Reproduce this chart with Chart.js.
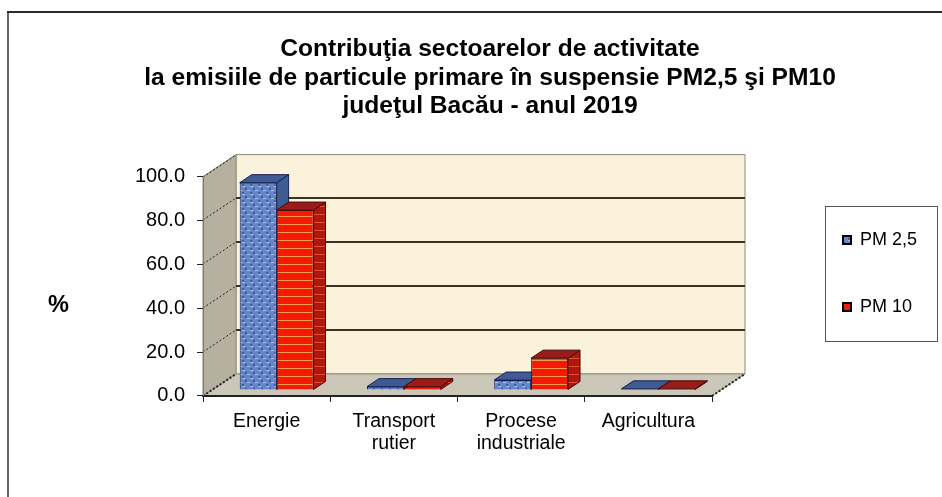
<!DOCTYPE html>
<html>
<head>
<meta charset="utf-8">
<style>
	html, body { margin: 0; padding: 0; background: #fff; }
	#wrap { width: 942px; height: 497px; }
</style>
<script src="https://cdn.jsdelivr.net/npm/chart.js@4/dist/chart.umd.min.js"></script>
</head>
<body>
<div id="wrap"><canvas id="emisiiChart" width="942" height="497"></canvas></div>
<script>
const categories = ['Energie', ['Transport', 'rutier'], ['Procese', 'industriale'], 'Agricultura'];
const pm25 = [94.5, 1.5, 4.5, 0.5];
const pm10 = [82, 1.5, 14.5, 0.5];
const titleLines = [
	'Contribuţia sectoarelor de activitate',
	'la emisiile de particule primare în suspensie PM2,5 şi PM10',
	'judeţul Bacău - anul 2019',
];

const FONT = '"Liberation Sans", Arial, sans-serif';
const WALL_DX = 33, WALL_DY = 22;
const BAR_DX = 10, BAR_DY = -6;
const DEPTH_DX = 12, DEPTH_DY = 8;

function makeTile(w, h, paint) {
	const c = document.createElement('canvas');
	c.width = w;
	c.height = h;
	paint(c.getContext('2d'));
	return c.getContext('2d').createPattern(c, 'repeat');
}

const bluePattern = makeTile(8, 8, (g) => {
	g.fillStyle = '#6485c8';
	g.fillRect(0, 0, 8, 8);
	g.fillStyle = '#a9c0ee';
	g.fillRect(0, 0, 3, 1);
	g.fillRect(5, 4, 3, 1);
	g.fillStyle = '#3a5ca0';
	g.fillRect(3, 2, 2, 2);
	g.fillRect(0, 6, 2, 2);
});
const redPattern = makeTile(4, 8, (g) => {
	g.fillStyle = '#f51a05';
	g.fillRect(0, 0, 4, 8);
	g.fillStyle = '#f59a4a';
	g.fillRect(0, 6, 4, 1);
});
const redSide = makeTile(4, 8, (g) => {
	g.fillStyle = '#b01510';
	g.fillRect(0, 0, 4, 8);
	g.fillStyle = '#e0502a';
	g.fillRect(0, 6, 4, 1);
});

const faces = [
	{ top: '#3f5a94', side: '#3d5d92', line: '#16204e' },
	{ top: '#9a1c18', side: redSide, line: '#4a0a08' },
];

function poly(ctx, pts, fill, stroke) {
	ctx.beginPath();
	pts.forEach((p, i) => (i ? ctx.lineTo(p[0], p[1]) : ctx.moveTo(p[0], p[1])));
	ctx.closePath();
	ctx.fillStyle = fill;
	ctx.fill();
	if (stroke) {
		ctx.strokeStyle = stroke;
		ctx.lineWidth = 1;
		ctx.stroke();
	}
}

// back wall, side wall and floor, hung off the real scales
const walls3d = {
	id: 'walls3d',
	beforeDraw(chart) {
		const { ctx, chartArea: a, scales: { y } } = chart;
		const dx = WALL_DX, dy = WALL_DY;
		poly(ctx, [[a.left + dx, a.top - dy], [a.right + dx, a.top - dy], [a.right + dx, a.bottom - dy], [a.left + dx, a.bottom - dy]], '#fbf2dc', '#8f8b80');
		poly(ctx, [[a.left, a.top], [a.left + dx, a.top - dy], [a.left + dx, a.bottom - dy], [a.left, a.bottom]], '#b5b0a0', '#8f8b80');
		poly(ctx, [[a.left, a.bottom], [a.left + dx, a.bottom - dy], [a.right + dx, a.bottom - dy], [a.right, a.bottom]], '#cbc7b8', '#8f8b80');
		y.ticks.forEach((t) => {
			if (t.value === 0) return;
			const py = Math.round(y.getPixelForValue(t.value));
			if (t.value < 100) {
				ctx.beginPath();
				ctx.moveTo(a.left + dx, py - dy);
				ctx.lineTo(a.right + dx, py - dy);
				ctx.strokeStyle = '#3a3222';
				ctx.lineWidth = 2;
				ctx.stroke();
			}
			ctx.save();
			ctx.setLineDash([2, 2]);
			ctx.beginPath();
			ctx.moveTo(a.left, py);
			ctx.lineTo(a.left + dx, py - dy);
			ctx.strokeStyle = '#222';
			ctx.lineWidth = 1;
			ctx.stroke();
			ctx.restore();
		});
		ctx.save();
		ctx.setLineDash([2, 2]);
		ctx.beginPath();
		ctx.moveTo(a.right, a.bottom);
		ctx.lineTo(a.right + dx, a.bottom - dy);
		ctx.moveTo(a.left, a.bottom);
		ctx.lineTo(a.left + dx, a.bottom - dy);
		ctx.strokeStyle = '#222';
		ctx.stroke();
		ctx.restore();
	},
	// side and top faces of every bar go first, so red fronts cover the blue sides
	beforeDatasetsDraw(chart) {
		const ctx = chart.ctx;
		chart.data.datasets.forEach((ds, i) => {
			const face = faces[i];
			chart.getDatasetMeta(i).data.forEach((bar) => {
				const l = bar.x - bar.width / 2 + BAR_DX;
				const r = bar.x + bar.width / 2 + BAR_DX;
				const t = bar.y + BAR_DY;
				const b = bar.base + BAR_DY;
				poly(ctx, [[r, t], [r + DEPTH_DX, t - DEPTH_DY], [r + DEPTH_DX, b - DEPTH_DY], [r, b]], face.side, face.line);
				poly(ctx, [[l, t], [l + DEPTH_DX, t - DEPTH_DY], [r + DEPTH_DX, t - DEPTH_DY], [r, t]], face.top, face.line);
			});
		});
	},
	// the library draws the front face, just shifted into the depth
	beforeDatasetDraw(chart) {
		chart.ctx.save();
		chart.ctx.translate(BAR_DX, BAR_DY);
	},
	afterDatasetDraw(chart) {
		chart.ctx.restore();
	},
	afterLayout(chart) {
		const legend = chart.legend;
		const pad = legend.options.labels.padding;
		legend.left = 843 - pad;
		legend.right = legend.left + legend.width;
		legend.top = 231 - pad;
		legend.bottom = legend.top + legend.height;
		// titlul e centrat pe x=490, nu pe zona graficului
		chart.titleBlock.left = 0;
		chart.titleBlock.right = 980;
		chart.titleBlock.width = 980;
	},
	afterDraw(chart) {
		const ctx = chart.ctx;
		ctx.save();
		// chenarul exterior
		ctx.strokeStyle = '#666';
		ctx.lineWidth = 2;
		ctx.beginPath();
		ctx.moveTo(8, 497);
		ctx.lineTo(8, 12);
		ctx.stroke();
		ctx.strokeStyle = '#2a2a2a';
		ctx.beginPath();
		ctx.moveTo(7, 12);
		ctx.lineTo(942, 12);
		ctx.stroke();
		// chenar legenda
		ctx.strokeStyle = '#555';
		ctx.lineWidth = 1;
		ctx.strokeRect(825.5, 206.5, 112, 135);
		ctx.fillStyle = '#000';
		ctx.font = 'bold 23.5px ' + FONT;
		ctx.textAlign = 'center';
		ctx.textBaseline = 'middle';
		ctx.fillText('%', 58.5, 306);
		ctx.restore();
	},
};

new Chart(document.getElementById('emisiiChart'), {
	type: 'bar',
	data: {
		labels: categories,
		datasets: [
			{ label: 'PM 2,5', data: pm25, backgroundColor: bluePattern, borderColor: faces[0].line, borderWidth: 1 },
			{ label: 'PM 10', data: pm10, backgroundColor: redPattern, borderColor: faces[1].line, borderWidth: 1 },
		],
	},
	options: {
		responsive: false,
		animation: false,
		categoryPercentage: 0.58,
		barPercentage: 1,
		layout: { padding: { left: 0, right: 230, top: 35, bottom: 33 } },
		clip: false,
		plugins: {
			title: {
				display: true,
				text: titleLines,
				color: '#000',
				font: { family: FONT, size: 24.6, weight: 'bold', lineHeight: 1.16 },
				padding: { top: 0, bottom: 56 },
			},
			legend: {
				position: 'chartArea',
				align: 'start',
				labels: {
					boxWidth: 8,
					boxHeight: 8,
					padding: 49,
					color: '#000',
					font: { family: FONT, size: 18 },
					generateLabels: (chart) => Chart.defaults.plugins.legend.labels.generateLabels(chart).map((it) => ({ ...it, strokeStyle: '#000', lineWidth: 2 })),
				},
			},
			tooltip: { enabled: false },
		},
		scales: {
			x: {
				grid: { drawOnChartArea: false, drawTicks: true, tickLength: 6, color: '#222', offset: true },
				border: { color: '#222', width: 2 },
				ticks: { color: '#000', font: { family: FONT, size: 19.5, lineHeight: 1.13 }, padding: 9, maxRotation: 0, autoSkip: false },
			},
			y: {
				min: 0,
				max: 100,
				afterFit: (scale) => { scale.width = 203; },
				grid: { drawOnChartArea: false, drawTicks: true, tickLength: 6, color: '#222' },
				border: { color: '#777', width: 1 },
				ticks: { stepSize: 20, color: '#000', font: { family: FONT, size: 20 }, padding: 12, callback: (v) => Number(v).toFixed(1) },
			},
		},
	},
	plugins: [walls3d],
});
</script>
</body>
</html>
